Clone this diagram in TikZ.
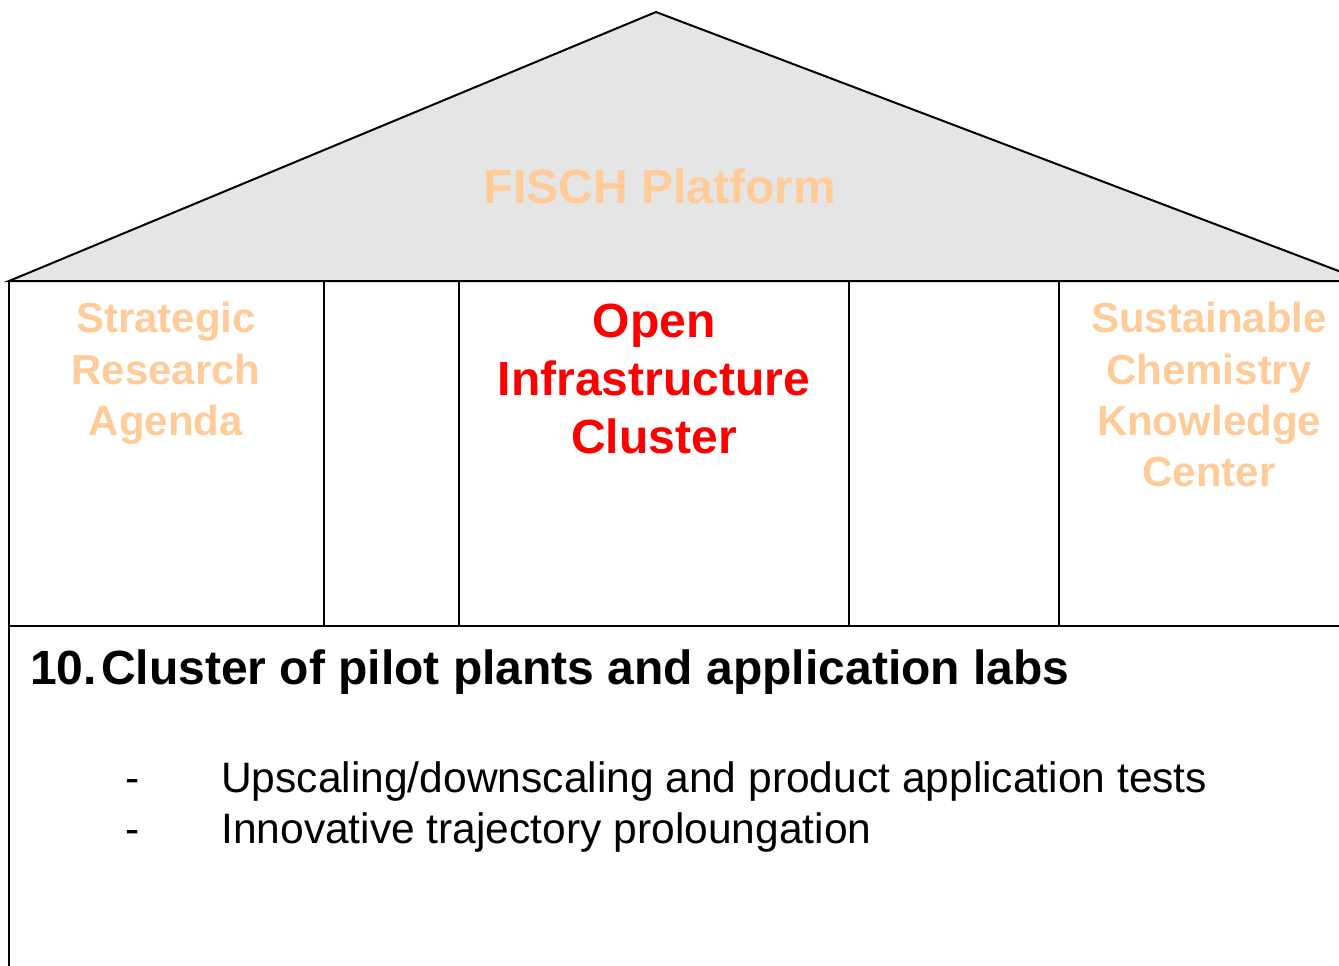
\documentclass[tikz,border=0pt]{standalone}
\usepackage{fontspec}
\setmainfont{Liberation Sans}
\begin{document}
\begin{tikzpicture}[x=0.75pt,y=-0.75pt,
  edge/.style={line width=1.5pt,black},
  pale/.style={text=paleorange,font=\fontsize{31.5}{38}\selectfont\bfseries,align=center,anchor=base},
  redt/.style={text=red,font=\fontsize{36}{43.5}\selectfont\bfseries,align=center,anchor=base}]
\definecolor{paleorange}{HTML}{FFCC99}
\definecolor{roofgray}{HTML}{E5E5E5}
\useasboundingbox (0,0) rectangle (1339,965);
\clip (0,0) rectangle (1339,965);
% roof
\coordinate (apex) at (656,12);
\coordinate (rl) at (9,281);
\coordinate (rr) at (1365,281);
\filldraw[edge,fill=roofgray,line join=miter] (rl) -- (apex) -- (rr) -- cycle;
% pillars
\draw[edge] (9,281) -- (9,970);
\draw[edge] (324,281) -- (324,626);
\draw[edge] (459,281) -- (459,626);
\draw[edge] (849,281) -- (849,626);
\draw[edge] (1059,281) -- (1059,626);
\draw[edge] (9,626) -- (1345,626);
% texts
\node[text=paleorange,font=\fontsize{36}{43}\selectfont\bfseries,anchor=base] (fisch) at (660,203) {FISCH Platform};
\node[pale] (sra1) at (166,332) {Strategic};
\node[pale] (sra2) at (166,384) {Research};
\node[pale] (sra3) at (166,435) {Agenda};
\node[redt] (oic1) at (654,337) {Open};
\node[redt] (oic2) at (654,395) {Infrastructure};
\node[redt] (oic3) at (654,453) {Cluster};
\node[pale] (sck1) at (1209,332) {Sustainable};
\node[pale] (sck2) at (1209,384) {Chemistry};
\node[pale] (sck3) at (1209,435) {Knowledge};
\node[pale] (sck4) at (1209,486) {Center};
\node[font=\fontsize{36}{43}\selectfont\bfseries,anchor=base west,inner sep=0pt] (num) at (30,684) {10.};
\node[font=\fontsize{36}{43}\selectfont\bfseries,anchor=base west,inner sep=0pt] (head) at (101,684) {Cluster of pilot plants and application labs};
\node[font=\fontsize{31.9}{38}\selectfont,anchor=base west,inner sep=0pt] (d1) at (125,792) {-};
\node[font=\fontsize{31.9}{38}\selectfont,anchor=base west,inner sep=0pt] (b1) at (221,792) {Upscaling/downscaling and product application tests};
\node[font=\fontsize{31.9}{38}\selectfont,anchor=base west,inner sep=0pt] (d2) at (125,843) {-};
\node[font=\fontsize{31.9}{38}\selectfont,anchor=base west,inner sep=0pt] (b2) at (221,843) {Innovative trajectory proloungation};
\end{tikzpicture}
\end{document}
